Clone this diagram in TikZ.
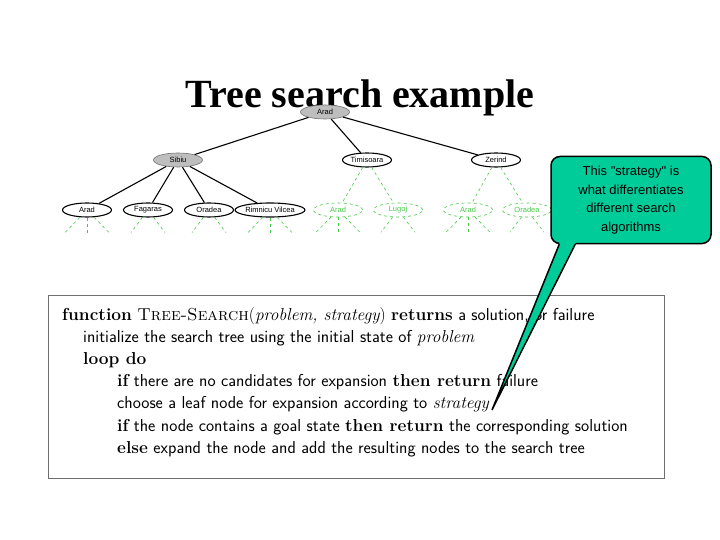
\documentclass[tikz,border=0pt]{standalone}
\usepackage{fontspec}
\newfontfamily\arialfont{Liberation Sans}
\newfontfamily\timesfont{Liberation Serif}
\usetikzlibrary{positioning,shapes.geometric}
\definecolor{TSgreen}{RGB}{70,200,70}
\definecolor{TSgray}{RGB}{190,190,190}
\definecolor{TSteal}{RGB}{0,204,153}
\definecolor{TSframe}{RGB}{110,110,110}
\newcommand\tskw[1]{{\rmfamily\bfseries #1}}
\newcommand\tsit[1]{{\rmfamily\itshape #1}}

\begin{document}
\begin{tikzpicture}[x=1pt,y=-1pt,
  city/.style={ellipse,draw=black,line width=1.1pt,minimum width=49pt,minimum height=14pt,inner sep=0pt,font=\arialfont\fontsize{7.5}{8}\selectfont},
  visited/.style={city,fill=TSgray,draw=TSgray!60!black,line width=0.6pt},
  fringe/.style={city,draw=TSgreen,dashed,text=TSgreen,semithick},
  tedge/.style={line width=1.1pt,black},
  gedge/.style={TSgreen,dashed,semithick},
  code/.style={anchor=base west,inner sep=0pt,font=\sffamily\fontsize{17.3}{20}\selectfont},
  note/.style={draw=black,line width=1.5pt,fill=TSteal,rounded corners=9pt,minimum width=160pt,minimum height=87pt,align=center,font=\arialfont\fontsize{13}{18.5}\selectfont},
]
\useasboundingbox (0,0) rectangle (720,540);

% Titel
\node[anchor=base,inner sep=0pt,font=\timesfont\bfseries\fontsize{40}{44}\selectfont] (title) at (360,108) {Tree search example};

% Baum
\node[visited] (arad) at (325,112) {Arad};
\node[visited] (sibiu) at (178,160) {Sibiu};
\node[city] (timisoara) at (367,160) {Timisoara};
\node[city] (zerind) at (496,160) {Zerind};

\node[city] (arad2) at (87,210) {Arad};
\node[city] (fagaras) at (148,210) {Fagaras};
\node[city] (oradea) at (209,210) {Oradea};
\node[city] (rimnicu) at (270,210) {Rimnicu Vilcea};
\node[fringe] (arad3) at (338,210) {Arad};
\node[fringe] (lugoj) at (398,210) {Lugoj};
\node[fringe] (arad4) at (468,210) {Arad};
\node[fringe] (oradea2) at (527,210) {Oradea};

\foreach \c in {sibiu,timisoara,zerind}
  \draw[tedge] (arad) -- (\c);
\foreach \c in {arad2,fagaras,oradea,rimnicu}
  \draw[tedge] (sibiu) -- (\c);
\draw[gedge] (timisoara) -- (arad3);
\draw[gedge] (timisoara) -- (lugoj);
\draw[gedge] (zerind) -- (arad4);
\draw[gedge] (zerind) -- (oradea2);

% offene Aeste
\foreach \n in {arad2,rimnicu,arad3,arad4}
  \foreach \dx [count=\i] in {-22,0,22}{
    \coordinate (\n-\i) at ([shift={(\dx,15)}]\n.south);
    \draw[gedge] (\n) -- (\n-\i);
  }
\foreach \n in {fagaras,oradea,lugoj,oradea2}
  \foreach \dx [count=\i] in {-17,17}{
    \coordinate (\n-\i) at ([shift={(\dx,15)}]\n.south);
    \draw[gedge] (\n) -- (\n-\i);
  }

% Algorithmus
\node[draw=TSframe,minimum width=616pt,minimum height=183pt,anchor=north west] (algo) at (48,295) {};
\node[code] (l1) at (62,320) {\tskw{function} {\rmfamily\textsc{Tree-Search}(}\tsit{problem, strategy}{\rmfamily)} \tskw{returns} a solution, or failure};
\node[code] (l2) at (83,342) {initialize the search tree using the initial state of \tsit{problem}};
\node[code] (l3) at (83,364) {\tskw{loop do}};
\node[code] (l4) at (117,386) {\tskw{if} there are no candidates for expansion \tskw{then return} failure};
\node[code] (l5) at (117,408) {choose a leaf node for expansion according to \tsit{strategy}};
\node[code] (l6) at (117,431) {\tskw{if} the node contains a goal state \tskw{then return} the corresponding solution};
\node[code] (l7) at (117,453) {\tskw{else} expand the node and add the resulting nodes to the search tree};

% Sprechblase
\node[note] (hint) at (631,200) {This "strategy" is\\what differentiates\\different search\\algorithms};
\coordinate (tip) at (492,410);
\coordinate (baseL) at ([xshift=9pt]hint.south west);
\coordinate (baseR) at ([xshift=25pt]hint.south west);
\fill[TSteal] ([shift={(0,-3)}]baseL) -- (baseL) -- (tip) -- (baseR) -- ([shift={(0,-3)}]baseR) -- cycle;
\draw[line width=1.5pt] (baseL) -- (tip) -- (baseR);
\end{tikzpicture}
\end{document}
